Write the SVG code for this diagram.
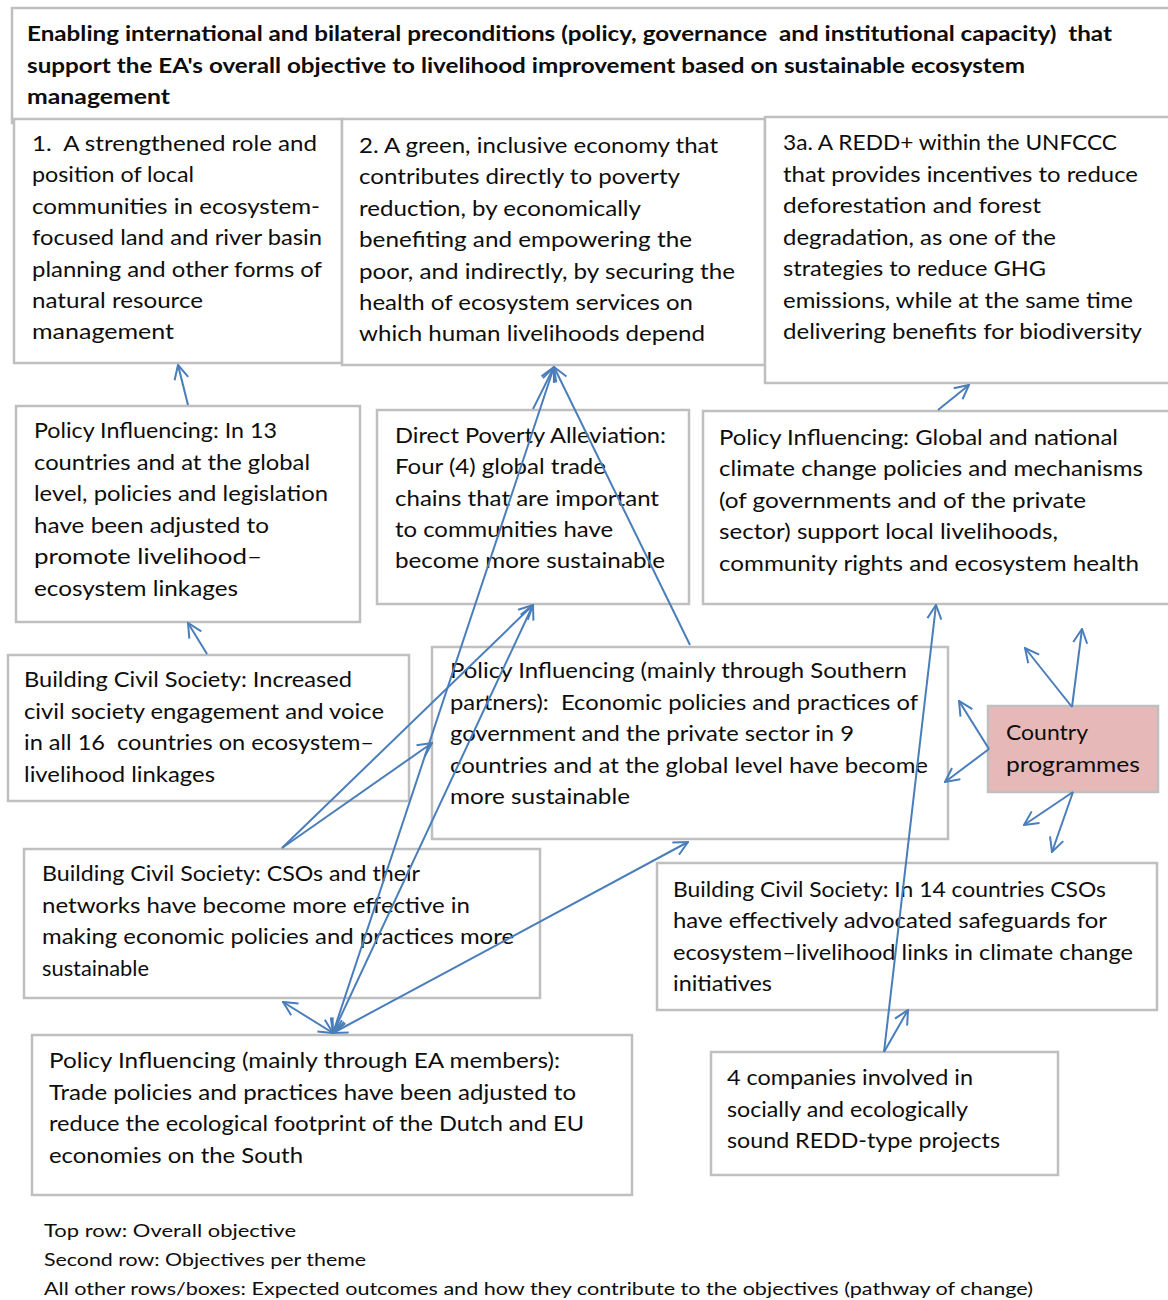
<svg xmlns="http://www.w3.org/2000/svg" width="1168" height="1300" viewBox="0 0 1168 1300">
  <style>
    .box { fill: #ffffff; stroke: #bfbfbf; stroke-width: 2.5; }
    .cp { fill: #e6b9b8; stroke: #bfbfbf; stroke-width: 2.5; }
    text { white-space: pre; }
    .t { font-family: Lato, "Open Sans", "Liberation Sans", sans-serif; font-size: 21px; fill: #0d0d0d; }
    .hd { font-family: Lato, "Liberation Sans", sans-serif; font-size: 20px; font-weight: bold; fill: #0d0d0d; }
    .ft { font-family: Lato, "Liberation Sans", sans-serif; font-size: 17px; fill: #0d0d0d; }
    .ln { fill: none; stroke: #4a7ebb; stroke-width: 2; }
  </style>
  <defs>
    <marker id="ah" viewBox="0 0 16 16" refX="15" refY="8" markerWidth="16" markerHeight="16" markerUnits="userSpaceOnUse" orient="auto-start-reverse">
      <path d="M1,1 L15,8 L1,15" fill="none" stroke="#4a7ebb" stroke-width="2"/>
    </marker>
  </defs>
  <rect width="1168" height="1300" fill="#ffffff"/>

  <!-- overall objective -->
  <g id="overall">
    <rect class="box" x="12" y="8" width="1170" height="115"/>
    <text class="hd" x="27" y="41" textLength="1085" lengthAdjust="spacingAndGlyphs">Enabling international and bilateral preconditions (policy, governance  and institutional capacity)  that</text>
    <text class="hd" x="27" y="73" textLength="998" lengthAdjust="spacingAndGlyphs">support the EA's overall objective to livelihood improvement based on sustainable ecosystem</text>
    <text class="hd" x="27" y="104" textLength="143" lengthAdjust="spacingAndGlyphs">management</text>
  </g>

  <!-- theme objectives -->
  <g id="obj1">
    <rect class="box" x="14" y="119" width="328" height="244"/>
    <text class="t" x="32" y="151" textLength="285" lengthAdjust="spacingAndGlyphs">1.  A strengthened role and</text>
    <text class="t" x="32" y="182" textLength="162" lengthAdjust="spacingAndGlyphs">position of local</text>
    <text class="t" x="32" y="214" textLength="288" lengthAdjust="spacingAndGlyphs">communities in ecosystem-</text>
    <text class="t" x="32" y="245" textLength="290" lengthAdjust="spacingAndGlyphs">focused land and river basin</text>
    <text class="t" x="32" y="277" textLength="290" lengthAdjust="spacingAndGlyphs">planning and other forms of</text>
    <text class="t" x="32" y="308" textLength="171" lengthAdjust="spacingAndGlyphs">natural resource</text>
    <text class="t" x="32" y="339" textLength="142" lengthAdjust="spacingAndGlyphs">management</text>
  </g>
  <g id="obj2">
    <rect class="box" x="342" y="119" width="423" height="246"/>
    <text class="t" x="359" y="153" textLength="359" lengthAdjust="spacingAndGlyphs">2. A green, inclusive economy that</text>
    <text class="t" x="359" y="184" textLength="321" lengthAdjust="spacingAndGlyphs">contributes directly to poverty</text>
    <text class="t" x="359" y="216" textLength="282" lengthAdjust="spacingAndGlyphs">reduction, by economically</text>
    <text class="t" x="359" y="247" textLength="333" lengthAdjust="spacingAndGlyphs">benefiting and empowering the</text>
    <text class="t" x="359" y="279" textLength="376" lengthAdjust="spacingAndGlyphs">poor, and indirectly, by securing the</text>
    <text class="t" x="359" y="310" textLength="334" lengthAdjust="spacingAndGlyphs">health of ecosystem services on</text>
    <text class="t" x="359" y="341" textLength="346" lengthAdjust="spacingAndGlyphs">which human livelihoods depend</text>
  </g>
  <g id="obj3a">
    <rect class="box" x="765" y="117" width="420" height="266"/>
    <text class="t" x="783" y="150" textLength="334" lengthAdjust="spacingAndGlyphs">3a. A REDD+ within the UNFCCC</text>
    <text class="t" x="783" y="182" textLength="355" lengthAdjust="spacingAndGlyphs">that provides incentives to reduce</text>
    <text class="t" x="783" y="213" textLength="258" lengthAdjust="spacingAndGlyphs">deforestation and forest</text>
    <text class="t" x="783" y="245" textLength="273" lengthAdjust="spacingAndGlyphs">degradation, as one of the</text>
    <text class="t" x="783" y="276" textLength="263" lengthAdjust="spacingAndGlyphs">strategies to reduce GHG</text>
    <text class="t" x="783" y="308" textLength="350" lengthAdjust="spacingAndGlyphs">emissions, while at the same time</text>
    <text class="t" x="783" y="339" textLength="359" lengthAdjust="spacingAndGlyphs">delivering benefits for biodiversity</text>
  </g>

  <!-- outcomes -->
  <g id="policy-legislation">
    <rect class="box" x="16" y="406" width="344" height="216"/>
    <text class="t" x="34" y="438" textLength="243" lengthAdjust="spacingAndGlyphs">Policy Influencing: In 13</text>
    <text class="t" x="34" y="470" textLength="276" lengthAdjust="spacingAndGlyphs">countries and at the global</text>
    <text class="t" x="34" y="501" textLength="294" lengthAdjust="spacingAndGlyphs">level, policies and legislation</text>
    <text class="t" x="34" y="533" textLength="235" lengthAdjust="spacingAndGlyphs">have been adjusted to</text>
    <text class="t" x="34" y="564" textLength="228" lengthAdjust="spacingAndGlyphs">promote livelihood–</text>
    <text class="t" x="34" y="596" textLength="204" lengthAdjust="spacingAndGlyphs">ecosystem linkages</text>
  </g>
  <g id="poverty-alleviation">
    <rect class="box" x="377" y="410" width="312" height="194"/>
    <text class="t" x="395" y="443" textLength="271" lengthAdjust="spacingAndGlyphs">Direct Poverty Alleviation:</text>
    <text class="t" x="395" y="474" textLength="211" lengthAdjust="spacingAndGlyphs">Four (4) global trade</text>
    <text class="t" x="395" y="506" textLength="264" lengthAdjust="spacingAndGlyphs">chains that are important</text>
    <text class="t" x="395" y="537" textLength="218" lengthAdjust="spacingAndGlyphs">to communities have</text>
    <text class="t" x="395" y="568" textLength="270" lengthAdjust="spacingAndGlyphs">become more sustainable</text>
  </g>
  <g id="climate-policy">
    <rect class="box" x="703" y="411" width="480" height="193"/>
    <text class="t" x="719" y="445" textLength="399" lengthAdjust="spacingAndGlyphs">Policy Influencing: Global and national</text>
    <text class="t" x="719" y="476" textLength="424" lengthAdjust="spacingAndGlyphs">climate change policies and mechanisms</text>
    <text class="t" x="719" y="508" textLength="367" lengthAdjust="spacingAndGlyphs">(of governments and of the private</text>
    <text class="t" x="719" y="539" textLength="339" lengthAdjust="spacingAndGlyphs">sector) support local livelihoods,</text>
    <text class="t" x="719" y="571" textLength="420" lengthAdjust="spacingAndGlyphs">community rights and ecosystem health</text>
  </g>
  <g id="civil-voice">
    <rect class="box" x="8" y="655" width="401" height="146"/>
    <text class="t" x="24" y="687" textLength="328" lengthAdjust="spacingAndGlyphs">Building Civil Society: Increased</text>
    <text class="t" x="24" y="719" textLength="360" lengthAdjust="spacingAndGlyphs">civil society engagement and voice</text>
    <text class="t" x="24" y="750" textLength="350" lengthAdjust="spacingAndGlyphs">in all 16  countries on ecosystem–</text>
    <text class="t" x="24" y="782" textLength="191" lengthAdjust="spacingAndGlyphs">livelihood linkages</text>
  </g>
  <g id="southern-policy">
    <rect class="box" x="432" y="647" width="516" height="192"/>
    <text class="t" x="450" y="678" textLength="457" lengthAdjust="spacingAndGlyphs">Policy Influencing (mainly through Southern</text>
    <text class="t" x="450" y="710" textLength="468" lengthAdjust="spacingAndGlyphs">partners):  Economic policies and practices of</text>
    <text class="t" x="450" y="741" textLength="404" lengthAdjust="spacingAndGlyphs">government and the private sector in 9</text>
    <text class="t" x="450" y="773" textLength="478" lengthAdjust="spacingAndGlyphs">countries and at the global level have become</text>
    <text class="t" x="450" y="804" textLength="180" lengthAdjust="spacingAndGlyphs">more sustainable</text>
  </g>
  <g id="country-programmes">
    <rect class="cp" x="988" y="706" width="170" height="86"/>
    <text class="t" x="1006" y="740" textLength="82" lengthAdjust="spacingAndGlyphs">Country</text>
    <text class="t" x="1006" y="772" textLength="134" lengthAdjust="spacingAndGlyphs">programmes</text>
  </g>
  <g id="cso-economic">
    <rect class="box" x="24" y="849" width="516" height="149"/>
    <text class="t" x="42" y="881" textLength="378" lengthAdjust="spacingAndGlyphs">Building Civil Society: CSOs and their</text>
    <text class="t" x="42" y="913" textLength="428" lengthAdjust="spacingAndGlyphs">networks have become more effective in</text>
    <text class="t" x="42" y="944" textLength="472" lengthAdjust="spacingAndGlyphs">making economic policies and practices more</text>
    <text class="t" x="42" y="976" textLength="107" lengthAdjust="spacingAndGlyphs">sustainable</text>
  </g>
  <g id="cso-climate">
    <rect class="box" x="657" y="863" width="500" height="147"/>
    <text class="t" x="673" y="897" textLength="433" lengthAdjust="spacingAndGlyphs">Building Civil Society: In 14 countries CSOs</text>
    <text class="t" x="673" y="928" textLength="434" lengthAdjust="spacingAndGlyphs">have effectively advocated safeguards for</text>
    <text class="t" x="673" y="960" textLength="460" lengthAdjust="spacingAndGlyphs">ecosystem–livelihood links in climate change</text>
    <text class="t" x="673" y="991" textLength="99" lengthAdjust="spacingAndGlyphs">initiatives</text>
  </g>
  <g id="trade-policy">
    <rect class="box" x="32" y="1035" width="600" height="160"/>
    <text class="t" x="49" y="1068" textLength="511" lengthAdjust="spacingAndGlyphs">Policy Influencing (mainly through EA members):</text>
    <text class="t" x="49" y="1100" textLength="527" lengthAdjust="spacingAndGlyphs">Trade policies and practices have been adjusted to</text>
    <text class="t" x="49" y="1131" textLength="535" lengthAdjust="spacingAndGlyphs">reduce the ecological footprint of the Dutch and EU</text>
    <text class="t" x="49" y="1163" textLength="254" lengthAdjust="spacingAndGlyphs">economies on the South</text>
  </g>
  <g id="redd-companies">
    <rect class="box" x="711" y="1052" width="347" height="123"/>
    <text class="t" x="727" y="1085" textLength="246" lengthAdjust="spacingAndGlyphs">4 companies involved in</text>
    <text class="t" x="727" y="1117" textLength="241" lengthAdjust="spacingAndGlyphs">socially and ecologically</text>
    <text class="t" x="727" y="1148" textLength="273" lengthAdjust="spacingAndGlyphs">sound REDD-type projects</text>
  </g>

  <!-- pathway connectors -->
  <g id="connectors">
    <line class="ln" x1="188" y1="405" x2="178" y2="365" marker-end="url(#ah)"/>
    <line class="ln" x1="207" y1="654" x2="188" y2="623" marker-end="url(#ah)"/>
    <line class="ln" x1="938" y1="410" x2="969" y2="385" marker-end="url(#ah)"/>
    <line class="ln" x1="690" y1="645" x2="554" y2="367" marker-end="url(#ah)"/>
    <line class="ln" x1="533" y1="409" x2="554" y2="367" marker-end="url(#ah)"/>
    <line class="ln" x1="333" y1="1033" x2="554" y2="367" marker-start="url(#ah)" marker-end="url(#ah)"/>
    <line class="ln" x1="333" y1="1033" x2="533" y2="605" marker-start="url(#ah)" marker-end="url(#ah)"/>
    <line class="ln" x1="333" y1="1033" x2="688" y2="842" marker-start="url(#ah)" marker-end="url(#ah)"/>
    <line class="ln" x1="333" y1="1033" x2="283" y2="1002" marker-start="url(#ah)" marker-end="url(#ah)"/>
    <line class="ln" x1="282" y1="848" x2="533" y2="605" marker-end="url(#ah)"/>
    <line class="ln" x1="282" y1="848" x2="432" y2="743" marker-end="url(#ah)"/>
    <line class="ln" x1="884" y1="1052" x2="936" y2="605" marker-end="url(#ah)"/>
    <line class="ln" x1="884" y1="1052" x2="908" y2="1010" marker-end="url(#ah)"/>
    <line class="ln" x1="1072" y1="707" x2="1025" y2="648" marker-end="url(#ah)"/>
    <line class="ln" x1="1072" y1="707" x2="1082" y2="629" marker-end="url(#ah)"/>
    <line class="ln" x1="989" y1="749" x2="959" y2="701" marker-end="url(#ah)"/>
    <line class="ln" x1="989" y1="749" x2="945" y2="782" marker-end="url(#ah)"/>
    <line class="ln" x1="1073" y1="792" x2="1024" y2="825" marker-end="url(#ah)"/>
    <line class="ln" x1="1073" y1="792" x2="1052" y2="852" marker-end="url(#ah)"/>
  </g>

  <!-- legend -->
  <g id="legend">
    <text class="ft" x="44" y="1237" textLength="252" lengthAdjust="spacingAndGlyphs">Top row: Overall objective</text>
    <text class="ft" x="44" y="1266" textLength="322" lengthAdjust="spacingAndGlyphs">Second row: Objectives per theme</text>
    <text class="ft" x="44" y="1295" textLength="989" lengthAdjust="spacingAndGlyphs">All other rows/boxes: Expected outcomes and how they contribute to the objectives (pathway of change)</text>
  </g>
</svg>
